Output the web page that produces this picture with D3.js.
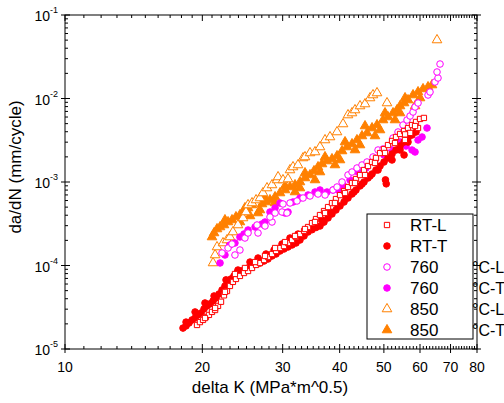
<!DOCTYPE html>
<meta charset="utf-8">
<head>
  <title>da/dN vs delta K</title>
</head>
<style>
body { margin: 0; background: #fff; }
text { font-family: "Liberation Sans", Arial, sans-serif; fill: #000; }
.frame { fill: none; stroke: #000; stroke-width: 1px; }
.tick { stroke: #000; stroke-width: 1px; }
</style>
<body>
<script src="https://d3js.org/d3.v7.min.js"></script>
<script>

// data: [delta K, da/dN]
var rtL = [[19.47,1.94e-5],[19.76,2.10e-5],[20.07,2.23e-5],[20.37,2.42e-5],[20.68,2.56e-5],[21.00,2.78e-5],
  [21.33,2.93e-5],[21.65,3.28e-5],[21.98,3.68e-5],[22.31,4.39e-5],[22.65,4.95e-5],[22.99,5.69e-5],[23.34,6.36e-5],
  [23.70,6.90e-5],[24.18,7.50e-5],[24.68,8.13e-5],[25.19,8.59e-5],[25.70,9.34e-5],[26.23,1.015e-4],[26.75,1.07e-4],
  [27.31,1.163e-4],[27.86,1.263e-4],[28.43,1.373e-4],[29.01,1.491e-4],[29.60,1.62e-4],[30.20,1.71e-4],[30.82,1.86e-4],
  [31.45,2.02e-4],[32.09,2.19e-4],[32.74,2.38e-4],[33.42,2.59e-4],[34.10,2.89e-4],[34.79,3.22e-4],[35.50,3.60e-4],
  [36.22,4.02e-4],[36.96,4.49e-4],[37.72,5.01e-4],[38.48,5.59e-4],[39.26,6.25e-4],[40.07,6.97e-4],[40.89,7.80e-4],
  [41.72,8.71e-4],[42.57,9.73e-4],[43.44,1.086e-3],[44.33,1.212e-3],[45.23,1.392e-3],[46.15,1.555e-3],[47.10,1.736e-3],
  [48.05,1.94e-3],[49.04,2.22e-3],[50.03,2.48e-3],[51.05,2.77e-3],[52.10,3.10e-3],[53.16,3.46e-3],[54.25,3.76e-3],
  [55.36,4.08e-3],[56.48,4.43e-3],[57.63,4.81e-3],[58.81,5.24e-3],[60.01,5.69e-3],[61.2,5.85e-3],
  [57.1,3.87e-3],[59.4,4.43e-3],[55.6,3.19e-3],
  [20.27,2.35e-5],[21.33,3.10e-5],[22.42,4.83e-5],[23.58,7.91e-5],[24.80,9.34e-5],[26.10,1.10e-4],[27.44,1.30e-4],
  [28.87,1.62e-4],[30.36,1.909e-4],[31.93,2.256e-4],[33.58,2.735e-4],[35.32,3.32e-4],[37.15,4.254e-4],[39.06,5.604e-4],
  [41.10,7.38e-4],[43.22,9.73e-4],[45.46,1.213e-3],[47.81,1.69e-3],[50.29,2.226e-3],[52.89,2.93e-3],[55.64,3.72e-3],
  [58.52,4.68e-3]];

var rtT = [[18.14,1.78e-5],[18.42,1.89e-5],[18.70,2.05e-5],[18.99,2.23e-5],[19.28,2.35e-5],[19.56,2.56e-5],
  [19.87,2.70e-5],[20.17,3.02e-5],[20.48,3.28e-5],[20.79,3.47e-5],[21.11,3.77e-5],[21.43,4.09e-5],[21.76,4.56e-5],
  [22.09,5.09e-5],[22.42,5.69e-5],[22.77,6.36e-5],[23.11,6.9e-5],[23.46,7.5e-5],[23.82,8.13e-5],[24.18,8.59e-5],
  [24.68,8.83e-5],[25.19,9.34e-5],[25.70,9.87e-5],[26.23,1.043e-4],[26.75,1.07e-4],[27.31,1.131e-4],[27.86,1.196e-4],
  [28.43,1.30e-4],[29.01,1.373e-4],[29.60,1.491e-4],[30.20,1.576e-4],[30.82,1.665e-4],[31.45,1.76e-4],[32.09,1.86e-4],
  [32.74,2.02e-4],[33.42,2.26e-4],[34.10,2.52e-4],[34.79,2.68e-4],[35.50,2.85e-4],[36.22,2.97e-4],[36.96,3.31e-4],
  [37.72,3.71e-4],[38.48,4.14e-4],[39.26,4.62e-4],[40.07,5.16e-4],[40.89,5.76e-4],[41.72,6.43e-4],[42.57,7.18e-4],
  [43.44,8.02e-4],[44.33,8.96e-4],[45.23,1.0e-3],[46.15,1.116e-3],[47.10,1.247e-3],[48.05,1.392e-3],[49.04,1.555e-3],
  [50.03,1.736e-3],[51.05,1.94e-3],[52.10,2.166e-3],[53.16,2.416e-3],[54.25,2.70e-3],[55.36,3.01e-3],[56.48,3.37e-3],
  [57.63,3.65e-3],[58.81,3.97e-3],[50.4,1.06e-3],[50.6,9.5e-4],
  [18.42,2.10e-5],[19.28,2.78e-5],[20.27,3.56e-5],[21.22,4.32e-5],[22.54,6.72e-5],[23.94,8.83e-5],[25.44,1.10e-4],
  [26.49,1.229e-4],[27.58,1.373e-4],[28.72,1.533e-4],[29.90,1.81e-4],[31.13,2.135e-4],[32.42,2.38e-4],[33.76,2.662e-4],
  [35.14,2.97e-4],[36.59,3.506e-4],[38.10,4.372e-4],[39.67,5.16e-4],[41.30,6.43e-4],[43.0,7.59e-4],[44.77,9.46e-4],
  [46.63,1.18e-3],[48.55,1.392e-3],[52.10,1.834e-3],[54.25,2.416e-3],[56.48,3.01e-3],[55.36,2.106e-3]];

var l760 = [[22.09,1.412e-4],[22.77,1.621e-4],[23.58,1.336e-4],[24.18,1.533e-4],[23.23,1.809e-4],[24.80,2.135e-4],
  [25.19,2.451e-4],[26.49,2.451e-4],[26.36,3.055e-4],[27.44,2.972e-4],[28.43,3.319e-4],[28.14,3.809e-4],[28.87,4.254e-4],
  [29.90,4.372e-4],[30.66,4.254e-4],[30.05,5.452e-4],[31.13,5.604e-4],[32.25,5.922e-4],[33.25,6.43e-4],[34.44,6.80e-4],
  [35.86,7.18e-4],[37.15,6.99e-4],[38.68,8.02e-4],[39.47,8.71e-4],[40.48,1.0e-3],[41.72,1.213e-3],[42.57,1.317e-3],
  [43.65,1.471e-3],[44.77,1.598e-3],[45.92,1.736e-3],[47.33,1.993e-3],[48.55,2.416e-3],[49.79,2.484e-3],[51.05,2.625e-3],
  [52.36,3.365e-3],[53.70,3.97e-3],[55.07,4.815e-3],[56.19,5.527e-3],[57.06,6.17e-3],[57.93,6.89e-3],[58.52,7.91e-3],
  [59.41,8.83e-3],[62.48,1.101e-2],[63.11,1.196e-2],[64.72,1.576e-2],[65.71,1.76e-2],[65.38,2.077e-2],[66.38,2.588e-2]];

var t760 = [[21.87,1.072e-4],[22.42,1.336e-4],[22.99,1.760e-4],[23.58,1.860e-4],[24.18,2.194e-4],[24.68,2.384e-4],
  [25.19,2.662e-4],[26.10,2.891e-4],[27.03,3.141e-4],[27.44,3.319e-4],[28.14,4.372e-4],[28.87,4.883e-4],[29.60,5.604e-4],
  [30.36,4.254e-4],[30.82,4.372e-4],[31.61,5.76e-4],[32.74,6.43e-4],[34.10,6.99e-4],[35.32,7.59e-4],[36.22,8.02e-4],
  [37.52,7.59e-4],[38.68,8.02e-4],[39.67,8.02e-4],[40.69,9.21e-4],[42.15,1.057e-3],[43.88,1.317e-3],[45.69,1.471e-3],
  [47.81,1.834e-3],[50.03,2.106e-3],[52.10,2.416e-3],[54.25,3.013e-3],[55.92,2.698e-3],[57.63,2.416e-3],[58.52,2.287e-3],
  [59.41,3.184e-3],[60.62,3.458e-3],[62.16,4.43e-3]];

var l850 = [[21.11,1.072e-4],[21.33,1.336e-4],[21.54,1.665e-4],[22.20,1.860e-4],[22.65,2.020e-4],[22.99,2.194e-4],
  [23.34,2.518e-4],[23.94,3.055e-4],[24.56,3.706e-4],[24.93,4.372e-4],[25.19,5.304e-4],[25.70,5.604e-4],[26.23,6.086e-4],
  [26.75,6.43e-4],[27.16,7.38e-4],[27.72,8.47e-4],[28.43,9.21e-4],[29.16,1.057e-3],[29.31,1.148e-3],[30.05,1.057e-3],
  [30.82,1.086e-3],[31.13,1.392e-3],[31.61,1.512e-3],[32.42,1.598e-3],[33.25,1.939e-3],[33.58,1.993e-3],[34.44,2.226e-3],
  [35.32,2.287e-3],[36.22,2.625e-3],[37.15,3.184e-3],[38.10,3.458e-3],[39.47,3.97e-3],[40.69,4.95e-3],[41.72,6.34e-3],
  [42.57,6.70e-3],[43.22,7.28e-3],[44.33,8.13e-3],[45.46,8.59e-3],[46.63,1.014e-2],[47.33,1.101e-2],[48.30,1.164e-2],
  [50.80,8.83e-3],[65.38,5.02e-2]];

var t850 = [[21.00,2.194e-4],[21.22,2.451e-4],[21.54,2.735e-4],[21.87,2.891e-4],[22.31,3.055e-4],[22.77,3.319e-4],
  [23.23,3.506e-4],[23.70,3.809e-4],[24.18,4.025e-4],[24.68,4.372e-4],[25.19,4.883e-4],[25.70,5.304e-4],[26.49,4.254e-4],
  [27.03,5.452e-4],[27.58,5.76e-4],[28.14,6.086e-4],[28.87,6.61e-4],[29.60,7.38e-4],[30.36,8.02e-4],[31.13,8.71e-4],
  [31.93,9.21e-4],[32.74,1.0e-3],[33.58,1.117e-3],[34.44,1.213e-3],[35.14,1.354e-3],[35.86,1.512e-3],[36.59,1.643e-3],
  [37.52,1.784e-3],[38.48,1.886e-3],[39.47,2.048e-3],[40.48,2.352e-3],[41.51,2.625e-3],[42.57,2.851e-3],[43.65,3.184e-3],
  [44.77,3.556e-3],[45.92,3.86e-3],[47.10,4.43e-3],[48.30,4.815e-3],[49.79,5.527e-3],[51.05,6.0e-3],[52.36,6.70e-3],
  [53.43,7.28e-3],[54.25,8.13e-3],[55.36,8.83e-3],[56.48,9.59e-3],[57.93,1.101e-2],[59.41,1.196e-2],[60.93,1.30e-2],
  [62.48,1.373e-2],[63.75,1.45e-2],
  [24.18,3.32e-4],[26.75,4.62e-4],[32.74,8.47e-4],[36.22,1.317e-3],[40.07,1.834e-3],[44.33,2.773e-3],[49.04,4.195e-3],
  [54.25,6.70e-3],[60.01,1.014e-2],
  [22.42,3.506e-4],[24.80,4.883e-4],[27.44,6.43e-4],[30.36,8.96e-4],[33.58,1.28e-3],[37.15,1.993e-3],[41.10,3.013e-3],
  [45.46,4.68e-3],[50.29,6.70e-3],[55.64,1.014e-2],
  [25.44,3.92e-4],[28.87,5.604e-4],[31.93,7.59e-4],[35.32,1.057e-3],[39.06,1.598e-3],[43.22,2.416e-3],[47.81,3.556e-3],
  [52.89,5.527e-3],[58.52,8.13e-3]];

var xMajor = [10, 20, 30, 40, 50, 60, 70, 80];
var yExps = [-5, -4, -3, -2, -1];
var legendNames = ["RT-L", "RT-T", "760", "760", "850", "850"];
var legendUnits = ["", "", "\u00b0C-L", "\u00b0C-T", "\u00b0C-L", "\u00b0C-T"];

// set the dimensions
var margin = {top: 15, right: 27, bottom: 54, left: 65},
    width = 504 - margin.left - margin.right,
    height = 403 - margin.top - margin.bottom;

var x = d3.scaleLog().domain([10, 80]).range([0, width]);
var y = d3.scaleLog().domain([1e-5, 1e-1]).range([height, 0]);

var svg = d3.select("body").append("svg")
    .attr("width", 504)
    .attr("height", 403)
  .append("g")
    .attr("transform", "translate(" + margin.left + "," + margin.top + ")");

// series, drawn back to front
var series = [
  {data: t850, type: d3.symbolTriangle, color: "#ff8000", filled: true,  size: 40},
  {data: l850, type: d3.symbolTriangle, color: "#ff8000", filled: false, size: 40},
  {data: t760, type: d3.symbolCircle,   color: "#ff00ff", filled: true,  size: 34},
  {data: l760, type: d3.symbolCircle,   color: "#ff00ff", filled: false, size: 34},
  {data: rtT,  type: d3.symbolCircle,   color: "#ff0000", filled: true,  size: 34},
  {data: rtL,  type: d3.symbolSquare,   color: "#ff0000", filled: false, size: 28}
];

series.forEach(function(s) {
  svg.append("g").selectAll("path")
      .data(s.data)
    .enter().append("path")
      .attr("transform", function(d) { return "translate(" + x(d[0]) + "," + y(d[1]) + ")"; })
      .attr("d", d3.symbol().type(s.type).size(s.size))
      .style("fill", s.filled ? s.color : "#fff")
      .style("stroke", s.color)
      .style("stroke-width", "1px");
});

// frame
svg.append("rect").attr("class", "frame")
    .attr("x", 0).attr("y", 0).attr("width", width).attr("height", height);

// x ticks (bottom and top)
var xMinor = [];
for (var k = 11; k < 80; k++) if (xMajor.indexOf(k) < 0) xMinor.push(k);

xMajor.forEach(function(v) {
  svg.append("line").attr("class", "tick")
      .attr("x1", x(v)).attr("x2", x(v)).attr("y1", height - 5).attr("y2", height + 4);
  svg.append("line").attr("class", "tick")
      .attr("x1", x(v)).attr("x2", x(v)).attr("y1", 0).attr("y2", 6);
  svg.append("text")
      .attr("x", x(v)).attr("y", height + 23)
      .attr("text-anchor", "middle")
      .style("font-size", "14px")
      .text(v);
});
xMinor.forEach(function(v) {
  svg.append("line").attr("class", "tick")
      .attr("x1", x(v)).attr("x2", x(v)).attr("y1", height - 3).attr("y2", height);
  svg.append("line").attr("class", "tick")
      .attr("x1", x(v)).attr("x2", x(v)).attr("y1", 0).attr("y2", 3);
});

// y ticks (left and right)
yExps.forEach(function(e) {
  var v = Math.pow(10, e);
  svg.append("line").attr("class", "tick")
      .attr("x1", -4).attr("x2", 5).attr("y1", y(v)).attr("y2", y(v));
  svg.append("line").attr("class", "tick")
      .attr("x1", width - 5).attr("x2", width + 4).attr("y1", y(v)).attr("y2", y(v));
  var t = svg.append("text")
      .attr("x", -7).attr("y", y(v) + 6)
      .attr("text-anchor", "end")
      .style("font-size", "14px");
  t.append("tspan").text("10");
  t.append("tspan").attr("dy", -8).style("font-size", "9px").text(e);
  if (e < -1) {
    for (var m = 2; m < 10; m++) {
      var mv = m * v;
      svg.append("line").attr("class", "tick")
          .attr("x1", 0).attr("x2", 3).attr("y1", y(mv)).attr("y2", y(mv));
      svg.append("line").attr("class", "tick")
          .attr("x1", width - 3).attr("x2", width).attr("y1", y(mv)).attr("y2", y(mv));
    }
  }
});

// axis titles
svg.append("text")
    .attr("x", 205).attr("y", height + 44)
    .attr("text-anchor", "middle")
    .style("font-size", "17px")
    .text("delta K (MPa*m^0.5)");

svg.append("text")
    .attr("transform", "translate(-44,152) rotate(-90)")
    .attr("text-anchor", "middle")
    .style("font-size", "17px")
    .text("da/dN (mm/cycle)");

// legend
var lg = svg.append("g").attr("transform", "translate(302,199)");
lg.append("rect")
    .attr("width", 106).attr("height", 125)
    .style("fill", "#fff").style("stroke", "#000").style("stroke-width", "1px");

var legendSeries = [series[5], series[4], series[3], series[2], series[1], series[0]];
legendNames.forEach(function(name, i) {
  var s = legendSeries[i];
  var cy = 11 + i * 21;
  lg.append("path")
      .attr("transform", "translate(20," + cy + ")")
      .attr("d", d3.symbol().type(s.type).size(s.size))
      .style("fill", s.filled ? s.color : "#fff")
      .style("stroke", s.color);
  lg.append("text")
      .attr("x", 43).attr("y", cy + 6)
      .style("font-size", "17px")
      .text(name);
  lg.append("text")
      .attr("x", 105).attr("y", cy + 6)
      .style("font-size", "16px")
      .text(legendUnits[i]);
});

</script>
</body>
